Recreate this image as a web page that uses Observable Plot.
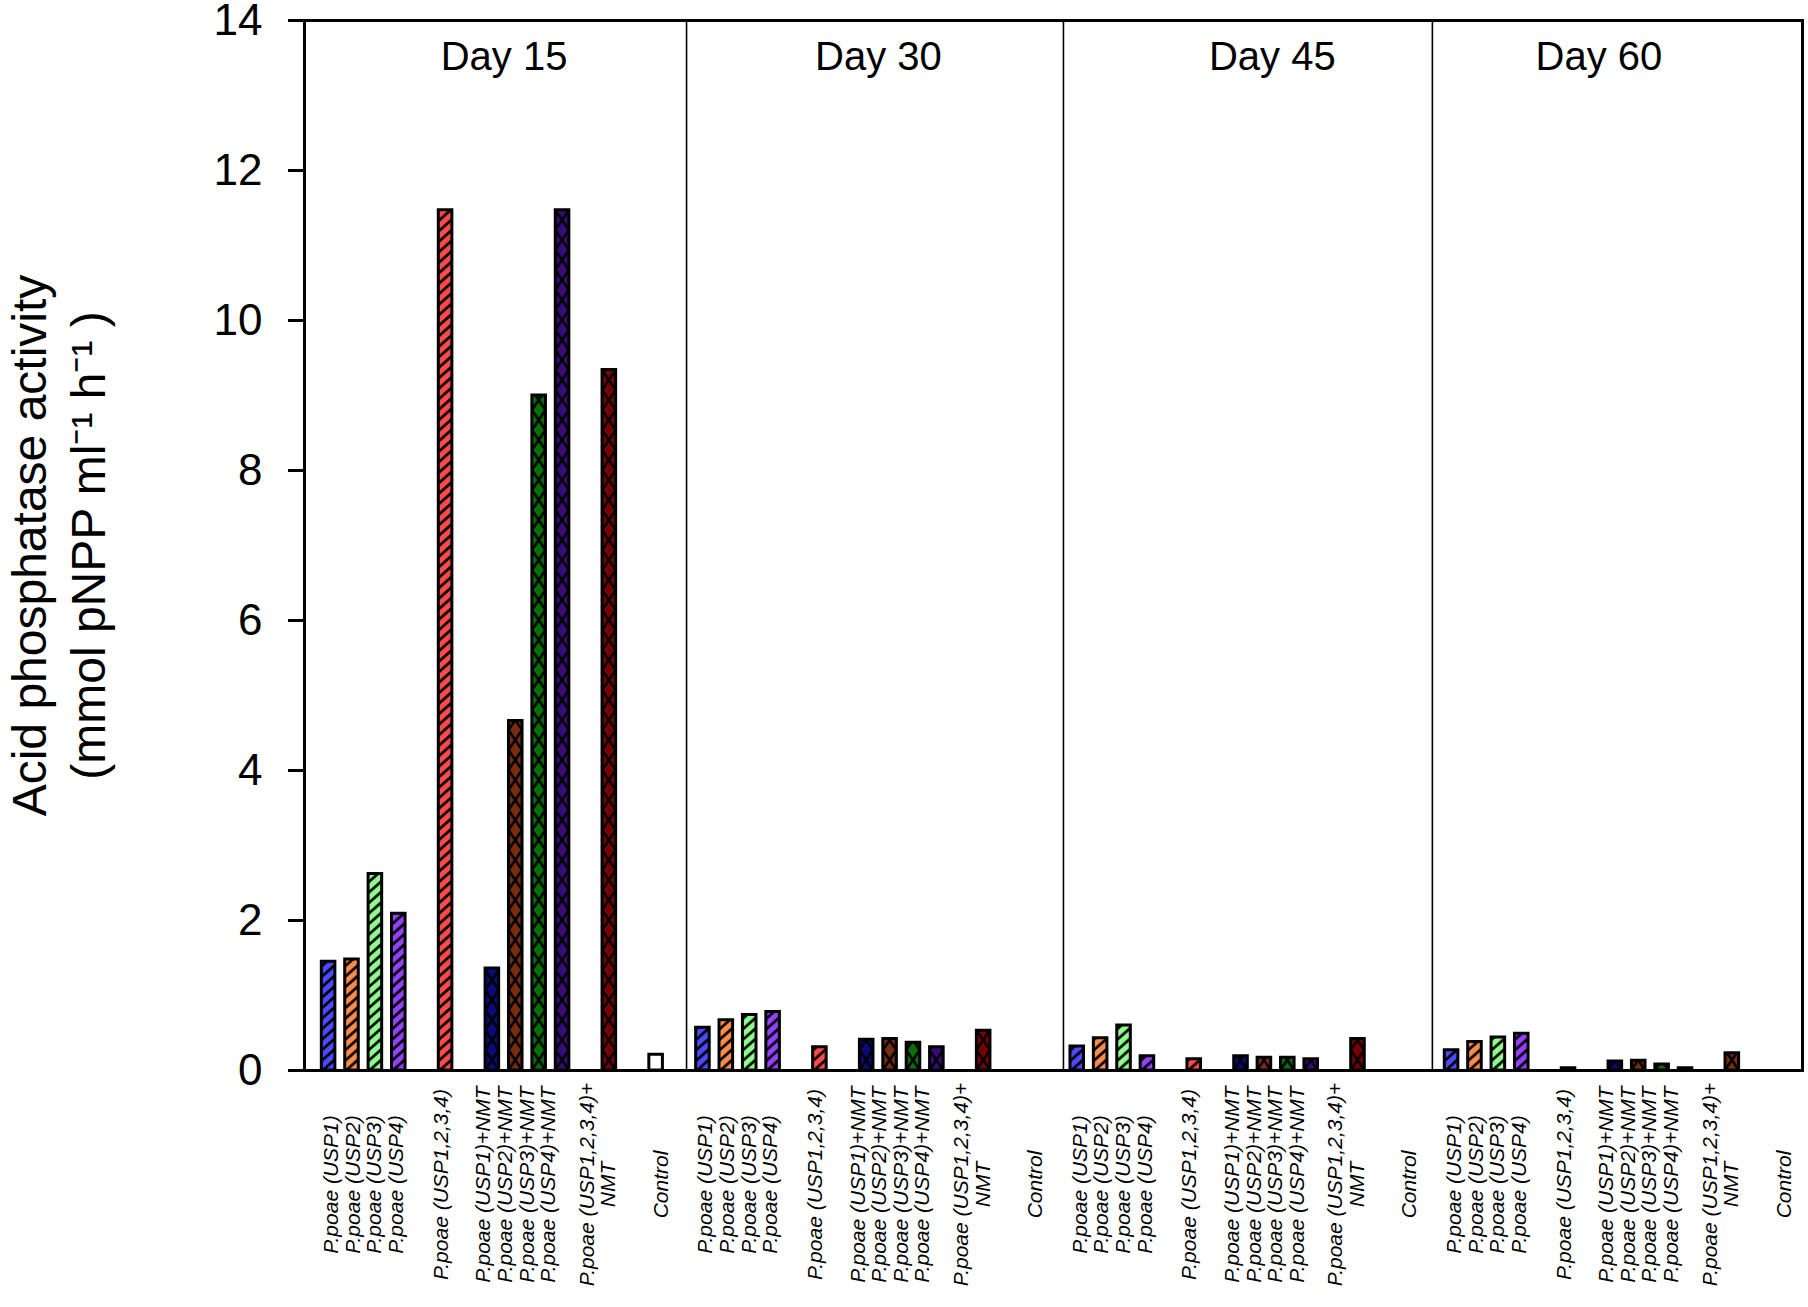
<!DOCTYPE html>
<html><head><meta charset="utf-8">
<script src="https://cdn.jsdelivr.net/npm/d3@7"></script>
<script src="https://cdn.jsdelivr.net/npm/@observablehq/plot@0.6"></script>
<style>
body{margin:0;background:#fff;}
#chart svg{display:block;}
</style>
</head><body><div id="chart"></div>
<script>
// ---------- data ----------
const days = ["Day 15", "Day 30", "Day 45", "Day 60"];
const treatments = [
  "P.poae (USP1)", "P.poae (USP2)", "P.poae (USP3)", "P.poae (USP4)",
  "P.poae (USP1,2,3,4)",
  "P.poae (USP1)+NMT", "P.poae (USP2)+NMT", "P.poae (USP3)+NMT", "P.poae (USP4)+NMT",
  "P.poae (USP1,2,3,4)+NMT",
  "Control"
];
const day15 = [1.45, 1.48, 2.62, 2.09, 11.47, 1.36, 4.66, 9.00, 11.47, 9.34, 0.21];
const day30 = [0.57, 0.67, 0.74, 0.78, 0.31, 0.41, 0.42, 0.37, 0.31, 0.53, 0];
const day45 = [0.32, 0.43, 0.60, 0.19, 0.15, 0.19, 0.17, 0.17, 0.15, 0.42, 0];
const day60 = [0.27, 0.38, 0.44, 0.49, 0.03, 0.12, 0.13, 0.08, 0.03, 0.23, 0];
const treatmentColors = ["#4a4aff", "#ff8c4a", "#8cff8c", "#9640ff", "#ff4a4a",
  "#0a0a7c", "#7a2e0e", "#0a6e0a", "#3a0a7a", "#7a0000", "#ffffff"];
const day60MixNmtColor = "#7a2e0e";
const hatchTypes = ["diag", "diag", "diag", "diag", "diag", "cross", "cross", "cross", "cross", "cross", "none"];
const groupLabels = [
  "P.poae (USP1)\nP.poae (USP2)\nP.poae (USP3)\nP.poae (USP4)",
  "P.poae (USP1,2,3,4)",
  "P.poae (USP1)+NMT\nP.poae (USP2)+NMT\nP.poae (USP3)+NMT\nP.poae (USP4)+NMT",
  "P.poae (USP1,2,3,4)+\nNMT",
  "Control"
];
const yTicks = [0, 2, 4, 6, 8, 10, 12, 14];
const yLabel = "Acid phosphatase activity\n(mmol pNPP ml\u207B\u00B9 h\u207B\u00B9 )";

// ---------- layout (slot units along a continuous x axis) ----------
const values = [day15, day30, day45, day60];
const slotOffsets = [0, 1, 2, 3, 5, 7, 8, 9, 10, 12, 14];
const groupOffsets = [1.5, 4.8, 8.0, 11.5, 14.2];
const panelStride = 16;
const dividers = [15.30, 31.41, 47.18];
const dayLabelX = [7.5, 23.5, 40.34, 54.3];

const rows = [];
days.forEach((d, di) => treatments.forEach((t, ti) => {
  let fill = treatmentColors[ti];
  if (d === "Day 60" && t === "P.poae (USP1,2,3,4)+NMT") fill = day60MixNmtColor;
  rows.push({day: d, treatment: t, value: values[di][ti], slot: di * panelStride + slotOffsets[ti], fill, hatch: hatchTypes[ti]});
}));
const bars = rows.filter(r => r.value > 0);

const labelRows = [];
days.forEach((d, di) => groupLabels.forEach((g, gi) => labelRows.push({text: g, slot: di * panelStride + groupOffsets[gi]})));

const hw = 0.29;
const font = "'Liberation Sans', Arial, Helvetica, sans-serif";

const chart = Plot.plot({
  width: 1808, height: 1307,
  marginLeft: 304, marginRight: 6, marginTop: 20, marginBottom: 237,
  style: {fontFamily: font, background: "white", color: "black"},
  x: {type: "linear", domain: [-1.03, 63.0], axis: null},
  y: {domain: [0, 14], axis: null},
  color: {type: "identity"},
  marks: [
    Plot.rectY(bars, {x1: d => d.slot - hw, x2: d => d.slot + hw, y1: 0, y2: "value", fill: "fill"}),
    Plot.rectY(bars, {x1: d => d.slot - hw, x2: d => d.slot + hw, y1: 0, y2: "value", fill: "none", stroke: "black", strokeWidth: 3}),
    Plot.ruleX(dividers, {x: d => d, stroke: "black", strokeWidth: 1.6}),
    Plot.frame({stroke: "black", strokeWidth: 3}),
    Plot.axisY({ticks: yTicks, tickSize: 16, tickPadding: 26, fontSize: 44, strokeWidth: 3, label: null, tickFormat: d => String(d)}),
    Plot.text(days, {x: (d, i) => dayLabelX[i], text: d => d, frameAnchor: "top", dy: 37, lineAnchor: "middle", fontSize: 40, fill: "black"}),
    Plot.text(labelRows, {x: "slot", text: "text", frameAnchor: "bottom", dy: 114, rotate: -90, textAnchor: "middle", lineAnchor: "middle", fontSize: 21, fontStyle: "italic", lineHeight: 1.03, fill: "black"}),
    Plot.text([yLabel], {text: d => d, frameAnchor: "left", dx: -248, rotate: -90, textAnchor: "middle", lineAnchor: "middle", fontSize: 48, lineHeight: 1.23, fill: "black"})
  ]
});

// ---------- hatch patterns per bar ----------
const svg = d3.select(chart);
const defs = svg.insert("defs", ":first-child");
const rectGroups = svg.selectAll('g[aria-label="rect"]').nodes();
const overlay = d3.select(rectGroups[rectGroups.length - 1]);
overlay.selectAll("rect").each(function(_, i) {
  const r = d3.select(this);
  const x = +r.attr("x"), y = +r.attr("y"), w = +r.attr("width"), h = +r.attr("height");
  const type = bars[i] ? bars[i].hatch : "none";
  if (type === "none") return;
  const id = "pat" + i;
  if (type === "diag") {
    const P = 10.5, R = 12;
    const pat = defs.append("pattern").attr("id", id).attr("patternUnits", "userSpaceOnUse")
      .attr("x", x).attr("y", y + h).attr("width", w).attr("height", P);
    for (let k = -3; k <= 3; k++) {
      pat.append("line").attr("x1", 0).attr("y1", k * P + R).attr("x2", w).attr("y2", k * P)
        .attr("stroke", "black").attr("stroke-width", 2.7);
    }
  } else {
    const C = 20;
    const pat = defs.append("pattern").attr("id", id).attr("patternUnits", "userSpaceOnUse")
      .attr("x", x).attr("y", y + h).attr("width", w).attr("height", C);
    pat.append("line").attr("x1", 0).attr("y1", 0).attr("x2", w).attr("y2", C).attr("stroke", "black").attr("stroke-width", 2.6);
    pat.append("line").attr("x1", w).attr("y1", 0).attr("x2", 0).attr("y2", C).attr("stroke", "black").attr("stroke-width", 2.6);
  }
  r.attr("fill", `url(#${id})`);
});

document.getElementById("chart").appendChild(chart);
</script>
</body></html>
